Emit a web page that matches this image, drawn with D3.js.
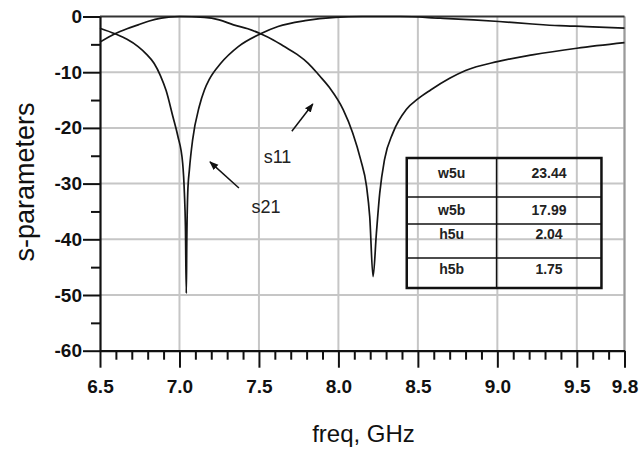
<!DOCTYPE html>
<html>
<head>
<meta charset="utf-8">
<script src="https://cdn.jsdelivr.net/npm/d3@7"></script>
<style>
  body { margin: 0; background: #fff; }
  svg { display: block; font-family: Arial, "Liberation Sans", sans-serif; }
</style>
</head>
<body>
<div id="chart"></div>
<script>
// s21 trace (notch near 7.04 GHz)
const s21Freq = [6.5, 6.594, 6.67, 6.74, 6.79, 6.84, 6.88, 6.916, 6.958, 6.99, 7.02, 7.031, 7.0375, 7.043,
  7.046, 7.052, 7.0625, 7.083, 7.125, 7.157, 7.1875, 7.26, 7.37, 7.51, 7.62, 7.79, 7.98, 8.15, 8.39,
  8.64, 8.85, 9.01, 9.22, 9.39, 9.56, 9.8];
const s21Db = [-2.1, -3.1, -4.1, -5.4, -6.7, -8.4, -10.6, -13.3, -17.9, -21.5, -26.3, -31.7, -37.7, -49.7,
  -40.7, -31.7, -27.5, -22.1, -16.1, -13.2, -11.3, -8.4, -5.4, -3.1, -1.8, -0.75, -0.15, 0, 0,
  -0.3, -0.6, -0.9, -1.35, -1.65, -1.8, -2.1];

// s11 trace (notch near 8.22 GHz)
const s11Freq = [6.5, 6.594, 6.67, 6.74, 6.81, 6.885, 7.0, 7.157, 7.25, 7.34, 7.43, 7.51, 7.59, 7.66,
  7.74, 7.81, 7.88, 7.945, 8.03, 8.09, 8.14, 8.177, 8.197, 8.218, 8.239, 8.26, 8.29, 8.343, 8.427,
  8.5, 8.58, 8.7, 8.8, 9.0, 9.22, 9.5, 9.8];
const s11Db = [-4.6, -3.1, -2.2, -1.5, -0.8, -0.3, 0, -0.15, -0.6, -1.5, -2.2, -3.1, -4.2, -5.4,
  -6.8, -8.4, -10.6, -12.8, -16.7, -20.9, -25.7, -30.5, -35.9, -46.7, -38.9, -31.7, -25.7, -20.9, -16.7,
  -14.8, -13.2, -11.1, -9.7, -8.1, -6.9, -5.7, -4.7];

const xMajor = [6.5, 7.0, 7.5, 8.0, 8.5, 9.0, 9.5, 9.8];
const yMajor = [-60, -50, -40, -30, -20, -10, 0];
const yMinor = [-55, -45, -35, -25, -15, -5];

// parameter table
const tableNames = ["w5u", "w5b", "h5u", "h5b"];
const tableValues = ["23.44", "17.99", "2.04", "1.75"];

// arrow labels
const labelNames = ["s11", "s21"];
const labelPos = [[7.617, -26.3], [7.545, -35.3]];
const arrowFrom = [[7.707, -20.6], [7.374, -30.8]];
const arrowTo = [[7.839, -15.7], [7.192, -26.1]];

const W = 642, H = 451;
const plotL = 100, plotR = 624.5, plotT = 16.5, plotB = 350.7;

const svg = d3.select("#chart").append("svg")
  .attr("width", W)
  .attr("height", H);

svg.append("rect").attr("width", W).attr("height", H).attr("fill", "#fff");

const x = d3.scaleLinear().domain([6.5, 9.8]).range([plotL, plotR]);
const y = d3.scaleLinear().domain([-60, 0]).range([plotB, plotT]);

// grid
const grid = svg.append("g").attr("stroke", "#c6c6c6").attr("stroke-width", 2);
grid.selectAll(".vg").data(xMajor.slice(1)).enter().append("line")
  .attr("x1", d => x(d)).attr("x2", d => x(d))
  .attr("y1", y(0)).attr("y2", y(-60));
grid.selectAll(".hg").data(yMajor.slice(1, -1)).enter().append("line")
  .attr("x1", x(6.5)).attr("x2", x(9.8))
  .attr("y1", d => y(d)).attr("y2", d => y(d));
// right edge a bit darker
svg.append("line")
  .attr("x1", x(9.8)).attr("x2", x(9.8)).attr("y1", y(0)).attr("y2", y(-60))
  .attr("stroke", "#9a9a9a").attr("stroke-width", 2);
// top border
svg.append("line")
  .attr("x1", x(6.5)).attr("x2", x(9.8)).attr("y1", y(0)).attr("y2", y(0))
  .attr("stroke", "#333").attr("stroke-width", 2);

// minor x ticks every 0.1
const xMinor = d3.range(66, 98).map(v => v / 10).filter(v => !xMajor.includes(v));

svg.append("g")
  .attr("transform", "translate(0," + plotB + ")")
  .call(d3.axisBottom(x).tickValues(xMajor).tickSize(17).tickSizeOuter(0).tickPadding(12)
    .tickFormat(d3.format(".1f")));
svg.append("g")
  .attr("transform", "translate(0," + plotB + ")")
  .call(d3.axisBottom(x).tickValues(xMinor).tickSize(9).tickSizeOuter(0).tickFormat(""))
  .select(".domain").remove();

svg.append("g")
  .attr("transform", "translate(" + plotL + ",0)")
  .call(d3.axisLeft(y).tickValues(yMajor).tickSize(17).tickSizeOuter(0).tickPadding(1)
    .tickFormat(d => String(d)));
svg.append("g")
  .attr("transform", "translate(" + plotL + ",0)")
  .call(d3.axisLeft(y).tickValues(yMinor).tickSize(9).tickSizeOuter(0).tickFormat(""))
  .select(".domain").remove();

svg.selectAll(".domain").attr("stroke", "#111").attr("stroke-width", 2.2);
svg.selectAll(".tick line").attr("stroke", "#111").attr("stroke-width", 2);
svg.selectAll(".tick text")
  .attr("fill", "#111")
  .style("font-size", "19px")
  .style("font-weight", "bold")
  .style("font-family", "Arial, 'Liberation Sans', sans-serif");

// traces
const line = d3.line()
  .x(d => x(d[0]))
  .y(d => y(d[1]))
  .curve(d3.curveMonotoneX);

const traces = [d3.zip(s21Freq, s21Db), d3.zip(s11Freq, s11Db)];
svg.append("g")
  .selectAll("path").data(traces).enter().append("path")
  .attr("d", line)
  .attr("fill", "none")
  .attr("stroke", "#151515")
  .attr("stroke-width", 1.7)
  .attr("stroke-linejoin", "round");

// arrow labels
const defs = svg.append("defs");
defs.append("marker")
  .attr("id", "arr")
  .attr("viewBox", "0 0 10 10")
  .attr("refX", 9).attr("refY", 5)
  .attr("markerWidth", 6).attr("markerHeight", 6)
  .attr("markerUnits", "strokeWidth")
  .attr("orient", "auto")
  .append("path").attr("d", "M0,1 L10,5 L0,9 Z").attr("fill", "#111");

labelNames.forEach((name, i) => {
  svg.append("line")
    .attr("x1", x(arrowFrom[i][0])).attr("y1", y(arrowFrom[i][1]))
    .attr("x2", x(arrowTo[i][0])).attr("y2", y(arrowTo[i][1]))
    .attr("stroke", "#111").attr("stroke-width", 1.5)
    .attr("marker-end", "url(#arr)");
  svg.append("text")
    .attr("x", x(labelPos[i][0])).attr("y", y(labelPos[i][1]))
    .attr("text-anchor", "middle")
    .attr("font-size", 18)
    .attr("fill", "#222")
    .text(name);
});

// table
const tLeft = x(8.43), tMid = x(8.995), tRight = x(9.655);
const rowEdges = [158, 197, 224, 258, 288];
const rowText = [173, 210, 234, 269];
const tbl = svg.append("g");
rowEdges.slice(1, -1).forEach(r => {
  tbl.append("line").attr("x1", tLeft).attr("x2", tRight).attr("y1", r).attr("y2", r)
    .attr("stroke", "#111").attr("stroke-width", 1.5);
});
tbl.append("line").attr("x1", tMid).attr("x2", tMid).attr("y1", rowEdges[0]).attr("y2", rowEdges[4])
  .attr("stroke", "#111").attr("stroke-width", 1.5);
tbl.append("rect")
  .attr("x", tLeft).attr("y", rowEdges[0])
  .attr("width", tRight - tLeft).attr("height", rowEdges[4] - rowEdges[0])
  .attr("fill", "none").attr("stroke", "#111").attr("stroke-width", 2.5);
tableNames.forEach((n, i) => {
  tbl.append("text").attr("x", (tLeft + tMid) / 2).attr("y", rowText[i])
    .attr("dy", "0.36em").attr("text-anchor", "middle")
    .attr("font-size", 14).attr("font-weight", "bold").attr("fill", "#222").text(n);
  tbl.append("text").attr("x", (tMid + tRight) / 2).attr("y", rowText[i])
    .attr("dy", "0.36em").attr("text-anchor", "middle")
    .attr("font-size", 14).attr("font-weight", "bold").attr("fill", "#222").text(tableValues[i]);
});

// axis titles
svg.append("text")
  .attr("transform", "translate(34,182) rotate(-90)")
  .attr("text-anchor", "middle")
  .attr("font-size", 27)
  .attr("fill", "#111")
  .text("s-parameters");

svg.append("text")
  .attr("x", 363.5).attr("y", 441.5)
  .attr("text-anchor", "middle")
  .attr("font-size", 24)
  .attr("fill", "#111")
  .text("freq, GHz");
</script>
</body>
</html>
